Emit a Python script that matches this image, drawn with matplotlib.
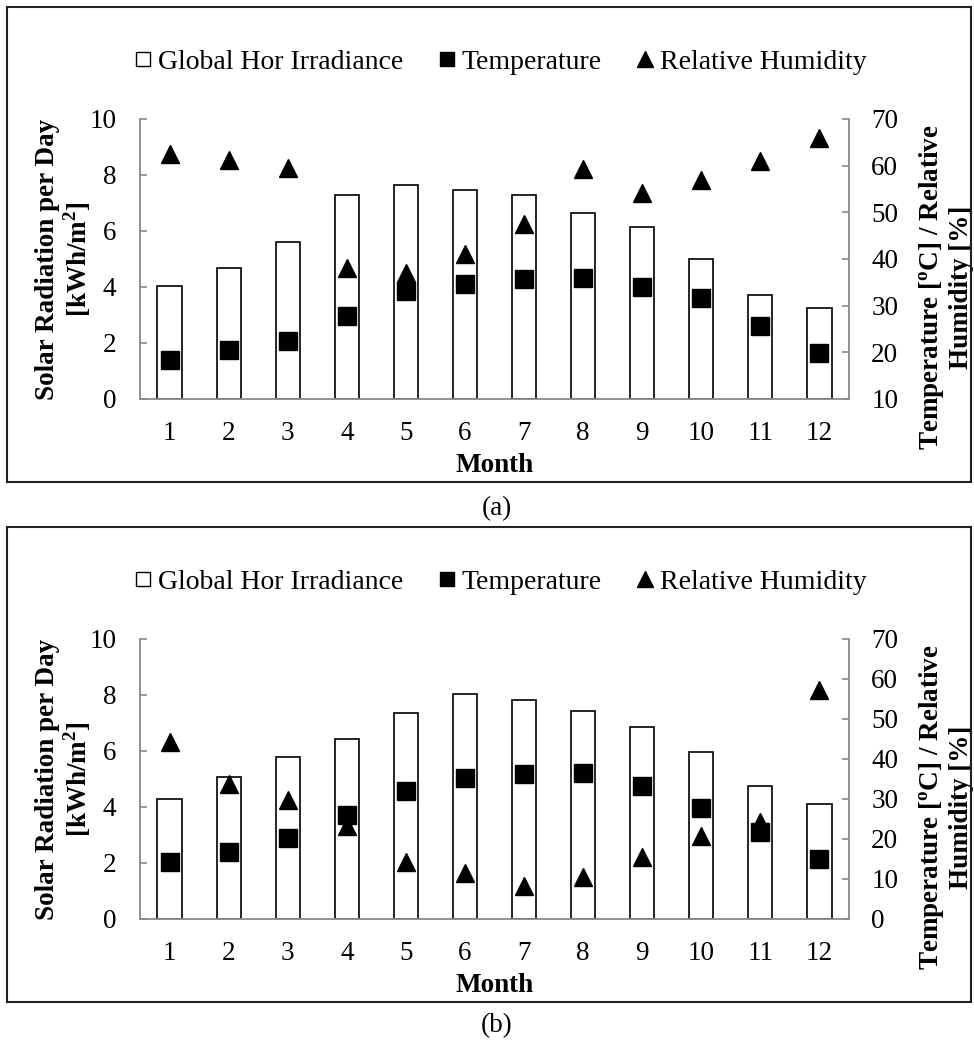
import matplotlib
matplotlib.use("Agg")
import matplotlib.pyplot as plt
from matplotlib.lines import Line2D
from matplotlib.patches import Rectangle

plt.rcParams['font.family'] = ['Liberation Serif', 'DejaVu Serif']
plt.rcParams['mathtext.fontset'] = 'custom'
plt.rcParams['mathtext.rm'] = 'Liberation Serif'
plt.rcParams['mathtext.bf'] = 'Liberation Serif:bold'

months = list(range(1, 13))

# panel (a)
ghi_a = [4.02, 4.69, 5.60, 7.29, 7.63, 7.48, 7.30, 6.63, 6.13, 5.01, 3.73, 3.26]
temp_a = [18.4, 20.4, 22.5, 27.8, 33.1, 34.6, 35.7, 35.9, 34.1, 31.6, 25.6, 19.8]
rh_a = [62.6, 61.2, 59.4, 38.0, 37.1, 41.1, 47.4, 59.2, 54.1, 56.9, 60.9, 65.9]

# panel (b)
ghi_b = [4.27, 5.07, 5.80, 6.44, 7.35, 8.04, 7.81, 7.44, 6.87, 5.98, 4.76, 4.12]
temp_b = [14.2, 16.7, 20.2, 26.0, 32.1, 35.2, 36.3, 36.5, 33.2, 27.8, 21.8, 15.1]
rh_b = [44.3, 33.8, 29.8, 23.3, 14.3, 11.6, 8.3, 10.6, 15.6, 20.8, 24.3, 57.3]

gray = '#898989'
fs = 19.5

fig = plt.figure(figsize=(9.74, 10.44), dpi=100)


def panel(rect, ghi, temp, rh, rlim, leg_y, box, cap, cap_y):
    ax = fig.add_axes(rect)
    ax.bar(months, ghi, width=0.41, color='white', edgecolor='black', linewidth=1.2, zorder=2)
    ax.set_xlim(0.5, 12.5)
    ax.set_ylim(0, 10)
    ax.set_yticks(range(0, 11, 2))
    ax.set_xticks(months)
    ax2 = ax.twinx()
    ax2.plot(months, temp, 's', color='black', markersize=13, zorder=3)
    ax2.plot(months, rh, '^', color='black', markersize=13, zorder=3)
    ax2.set_ylim(*rlim)
    ax2.set_yticks(range(rlim[0], rlim[1] + 1, 10))

    for a in (ax, ax2):
        a.spines['top'].set_visible(False)
        for s in ('left', 'right', 'bottom'):
            a.spines[s].set_color(gray)
            a.spines[s].set_linewidth(1.3)
    ax.spines['right'].set_visible(False)
    ax2.spines['left'].set_visible(False)
    ax2.spines['bottom'].set_visible(False)

    ax.tick_params(axis='y', direction='in', length=5, width=1.2, color=gray, pad=17, labelsize=fs)
    ax.tick_params(axis='x', length=0, pad=16, labelsize=fs)
    ax2.tick_params(axis='y', direction='in', length=5, width=1.2, color=gray, pad=16, labelsize=fs)

    ax.set_xlabel('Month', fontsize=fs, fontweight='bold', labelpad=5)
    ax.set_ylabel('Solar Radiation per Day\n[kWh/m$^{\\mathbf{2}}$]', fontsize=fs,
                  fontweight='bold', linespacing=1.05)
    ax.yaxis.set_label_coords(-0.066, 0.5)
    ax2.set_ylabel('Temperature [$^{\\mathbf{o}}$C] / Relative\nHumidity [%]', fontsize=fs,
                   fontweight='bold', linespacing=1.1)
    ax2.yaxis.set_label_coords(1.096, 0.40)

    handles = [
        Line2D([], [], ls='none', marker='s', markersize=9.5, markerfacecolor='white',
               markeredgecolor='black', markeredgewidth=1.0),
        Line2D([], [], ls='none', marker='s', markersize=9.5, color='black'),
        Line2D([], [], ls='none', marker='^', markersize=11, color='black'),
    ]
    fig.legend(handles, ['Global Hor Irradiance', 'Temperature', 'Relative Humidity'],
               loc='center', bbox_to_anchor=(0.515, leg_y), ncol=3, frameon=False,
               fontsize=20, handlelength=0.5, handletextpad=0.3, columnspacing=1.3)

    fig.patches.append(Rectangle((box[0], box[1]), box[2], box[3], transform=fig.transFigure,
                                 fill=False, edgecolor='#222222', linewidth=1.5))
    fig.text(0.51, cap_y, cap, ha='center', va='center', fontsize=fs)


W, H = 974, 1044
panel([140 / W, 1 - 399 / H, 709 / W, 280 / H], ghi_a, temp_a, rh_a, (10, 70),
      1 - 62 / H, (7 / W, 1 - 482 / H, 964 / W, 475 / H), '(a)', 1 - 509 / H)
panel([140 / W, 1 - 919 / H, 709 / W, 280 / H], ghi_b, temp_b, rh_b, (0, 70),
      1 - 582 / H, (7 / W, 1 - 1002 / H, 964 / W, 475 / H), '(b)', 1 - 1026 / H)

fig.savefig('out.png', dpi=100, facecolor='white')
